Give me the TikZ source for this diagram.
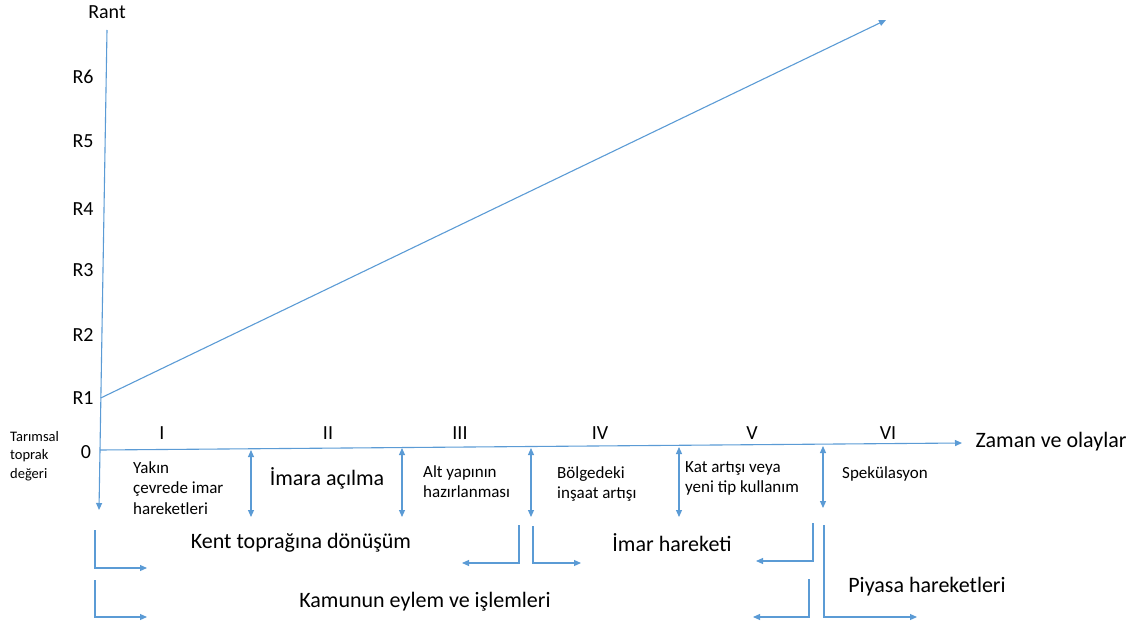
\documentclass[tikz,border=0pt]{standalone}
\usepackage{fontspec}
\setmainfont{Carlito}
\usepackage{tikz}
\usetikzlibrary{arrows.meta}
\definecolor{rantblue}{HTML}{5B9BD5}

\begin{document}
\begin{tikzpicture}
      [
        x=1pt, y=-1pt,
        line/.style={draw=rantblue, line width=1.1pt},
        tip/.style={line, -{Triangle[length=7pt,width=6pt]}},
        both/.style={line, {Triangle[length=7pt,width=6pt]}-{Triangle[length=7pt,width=6pt]}},
        big/.style={inner sep=0pt, font=\fontsize{22}{26}\selectfont},
        tick/.style={inner sep=0pt, font=\fontsize{20}{24}\selectfont},
        event/.style={inner sep=0pt, anchor=north west, align=left, font=\fontsize{17}{20.5}\selectfont},
        note/.style={inner sep=0pt, anchor=north west, align=left, font=\fontsize{14.5}{18.5}\selectfont}
      ]
      \useasboundingbox (0,0) rectangle (1136,626);
      % axes
      \coordinate (rtop) at (107,30);
      \coordinate (rbot) at (99,510);
      \coordinate (o) at (100,450);
      \coordinate (tend) at (962,443);
      \coordinate (r1) at (100.7,398);
      \coordinate (rtip) at (886,20);
      \draw [tip] (rtop) -- (rbot);
      \draw [tip] (o) -- (tend);
      \draw [tip] (r1) -- (rtip);
      % axis labels
      \node [tick] (rant) at (107,12) {Rant};
      \foreach \y [count=\i] in {398,335,270,209,141,77} {
          \node [tick] (r\i lab) at (83,\y) {R\i};
      }
      \node [tick] (zero) at (86,452) {0};
      \foreach \x/\n in {162/I,328/II,460/III,600/IV,752/V,888/VI} {
          \node [tick] (ph\n) at (\x,433) {\n};
      }
      \node [big] (zaman) at (1051,442) {Zaman ve olaylar};
      \node [note] (tarim) at (10,431) {Tarımsal\\toprak\\değeri};
      % phases
      \foreach \x/\t/\b [count=\i] in {251/450/517,402/448/517,531/448/517,679/447/517,823/446/508} {
          \coordinate (up\i) at (\x,\t);
          \coordinate (dn\i) at (\x,\b);
          \draw [both] (up\i) -- (dn\i);
      }
      \node [event] (yakin) at (133,461) {Yakın\\çevrede imar\\hareketleri};
      \node [big] (imara) at (327,478) {İmara açılma};
      \node [event] (altyapi) at (423,465) {Alt yapının\\hazırlanması};
      \node [event] (insaat) at (557,466) {Bölgedeki\\inşaat artışı};
      \node [event] (kat) at (685,461) {Kat artışı veya\\yeni tip kullanım};
      \node [event] (spek) at (842,466) {Spekülasyon};
      % actors
      \node [big] (kent) at (301,543) {Kent toprağına dönüşüm};
      \node [big] (kamu) at (425,602) {Kamunun eylem ve işlemleri};
      \node [big] (imar) at (672,543) {İmar hareketi};
      \node [big] (piyasa) at (927,587) {Piyasa hareketleri};
      % brackets
      \coordinate (kentA) at (95,530);   \coordinate (kentB) at (147,568);
      \coordinate (kamuA) at (95,580);   \coordinate (kamuB) at (147,617);
      \coordinate (kentC) at (519,525);  \coordinate (kentD) at (462,563);
      \coordinate (imarA) at (533,526);  \coordinate (imarB) at (581,563);
      \coordinate (imarC) at (813,523);  \coordinate (imarD) at (756,561);
      \coordinate (kamuC) at (809,579);  \coordinate (kamuD) at (753,617);
      \coordinate (piyA) at (824,525);   \coordinate (piyB) at (917,617);
      \draw [tip] (kentA) |- (kentB);
      \draw [tip] (kamuA) |- (kamuB);
      \draw [tip] (kentC) |- (kentD);
      \draw [tip] (imarA) |- (imarB);
      \draw [tip] (imarC) |- (imarD);
      \draw [tip] (kamuC) |- (kamuD);
      \draw [tip] (piyA) |- (piyB);
\end{tikzpicture}
\end{document}
